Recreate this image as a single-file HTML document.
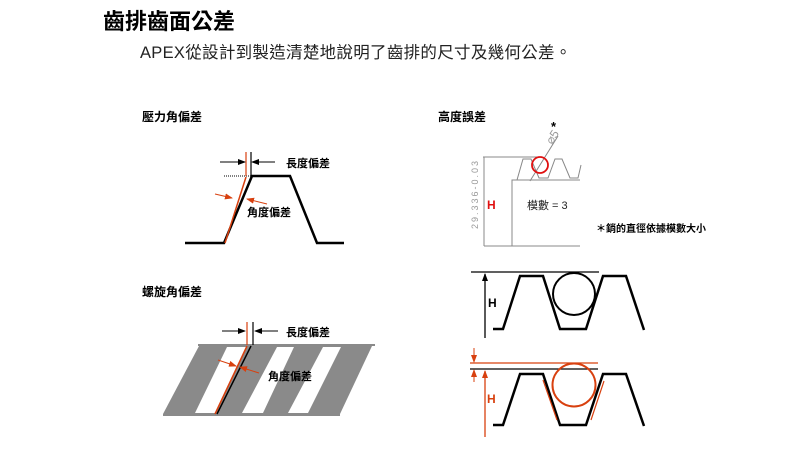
<!DOCTYPE html>
<html><head><meta charset="utf-8"><style>
body{margin:0;background:#fff;width:807px;height:449px;overflow:hidden}
text{font-family:"Liberation Sans","Noto Sans CJK TC",sans-serif}
</style></head><body>
<svg width="807" height="449" viewBox="0 0 807 449" xmlns="http://www.w3.org/2000/svg">
<defs>
<marker id="ab" markerWidth="8" markerHeight="6" refX="7" refY="3" orient="auto" markerUnits="userSpaceOnUse"><path d="M0,0L8,3L0,6z" fill="#000"/></marker>
<marker id="ar" markerWidth="8" markerHeight="6" refX="7" refY="3" orient="auto" markerUnits="userSpaceOnUse"><path d="M0,0L8,3L0,6z" fill="#d8400f"/></marker>
</defs>
<text x="103" y="29" font-size="22" font-weight="bold">齒排齒面公差</text>
<text x="140" y="58" font-size="16.5" fill="#222" letter-spacing="0.3">APEX從設計到製造清楚地說明了齒排的尺寸及幾何公差。</text>

<!-- section 1 -->
<text x="142" y="121" font-size="12" font-weight="bold">壓力角偏差</text>
<polyline points="185,243 224,243 252,176 290,176 317,243 344,243" fill="none" stroke="#000" stroke-width="2.5"/>
<line x1="224" y1="176" x2="252" y2="176" stroke="#000" stroke-dasharray="1,1"/>
<line x1="225" y1="243" x2="246" y2="177" stroke="#d8400f" stroke-width="1.5"/>
<line x1="246" y1="152" x2="246" y2="176" stroke="#d8400f" stroke-width="1.2"/>
<line x1="251" y1="152" x2="251" y2="176" stroke="#000" stroke-width="1.2"/>
<line x1="220" y1="162" x2="245" y2="162" stroke="#000" marker-end="url(#ab)"/>
<line x1="275" y1="162" x2="252" y2="162" stroke="#000" marker-end="url(#ab)"/>
<text x="286" y="167" font-size="11" font-weight="bold">長度偏差</text>
<line x1="215" y1="194" x2="232" y2="198" stroke="#d8400f" marker-end="url(#ar)"/>
<line x1="267" y1="204" x2="247" y2="199" stroke="#d8400f" marker-end="url(#ar)"/>
<text x="247" y="216" font-size="11" font-weight="bold">角度偏差</text>

<!-- section 2 -->
<text x="438" y="121" font-size="12" font-weight="bold">高度誤差</text>
<g stroke="#888" fill="none" stroke-width="1">
<line x1="483" y1="157" x2="540" y2="157"/>
<line x1="484" y1="157" x2="484" y2="246"/>
<line x1="484" y1="246" x2="512" y2="246"/>
<polyline points="512,246 512,180 580,180"/>
<line x1="512" y1="246" x2="580" y2="246"/>
<polyline points="517,180 523,159 531,159 539,178 548,178 555,159 562,159 570,178 578,178 581,165"/>
<line x1="530" y1="181" x2="558" y2="136"/>
</g>
<circle cx="540" cy="165" r="8" fill="none" stroke="#e01010" stroke-width="1.8"/>
<text x="0" y="0" font-size="12" fill="#999" transform="translate(552,145) rotate(-57)">⌀5</text>
<text x="551" y="131" font-size="13" font-weight="bold">*</text>
<text x="0" y="0" font-size="9" fill="#999" font-family="Liberation Mono" transform="translate(478,229) rotate(-90)" letter-spacing="2">29.336-0.03</text>
<text x="487" y="209" font-size="12" font-weight="bold" fill="#e01010">H</text>
<text x="527" y="209" font-size="11" fill="#222">模數 = 3</text>
<text x="596" y="232" font-size="10" font-weight="bold">＊銷的直徑依據模數大小</text>

<!-- section 3 -->
<text x="142" y="296" font-size="12" font-weight="bold">螺旋角偏差</text>
<polygon points="199,346 372,346 340,414 163,414" fill="#8a8a8a"/>
<line x1="198" y1="345" x2="375" y2="345" stroke="#8a8a8a" stroke-width="2"/>
<line x1="163" y1="415" x2="340" y2="415" stroke="#8a8a8a" stroke-width="2"/>
<g fill="#fff">
<polygon points="227,347 247,347 215,413 195,413"/>
<polygon points="277,347 294,347 263,413 242,413"/>
<polygon points="323,347 341,347 308,413 288,413"/>
</g>
<line x1="217" y1="414" x2="251" y2="346" stroke="#000" stroke-width="1.5"/>
<line x1="215" y1="414" x2="247" y2="346" stroke="#d8400f" stroke-width="1.5"/>
<line x1="247" y1="322" x2="247" y2="345" stroke="#d8400f" stroke-width="1.2"/>
<line x1="253" y1="322" x2="253" y2="345" stroke="#000" stroke-width="1.2"/>
<line x1="222" y1="331" x2="245" y2="331" stroke="#000" marker-end="url(#ab)"/>
<line x1="278" y1="331" x2="255" y2="331" stroke="#000" marker-end="url(#ab)"/>
<text x="286" y="336" font-size="11" font-weight="bold">長度偏差</text>
<line x1="218" y1="360" x2="236" y2="366" stroke="#d8400f" marker-end="url(#ar)"/>
<line x1="259" y1="373" x2="240" y2="367" stroke="#d8400f" marker-end="url(#ar)"/>
<text x="268" y="380" font-size="11" font-weight="bold">角度偏差</text>

<!-- section 4 -->
<line x1="471" y1="272" x2="599" y2="272" stroke="#000" stroke-width="1.3"/>
<line x1="485" y1="338" x2="485" y2="274" stroke="#000" stroke-width="1.3" marker-end="url(#ab)"/>
<text x="488" y="307" font-size="12" font-weight="bold">H</text>
<polyline points="493,329 503,329 520,276 543,276 560,329 586,329 603,276 626,276 644,330" fill="none" stroke="#000" stroke-width="2.5"/>
<circle cx="574" cy="294" r="21" fill="none" stroke="#000" stroke-width="2"/>

<line x1="470" y1="363" x2="598" y2="363" stroke="#d8400f" stroke-width="1.3"/>
<line x1="470" y1="369" x2="598" y2="369" stroke="#000" stroke-width="1.3"/>
<line x1="474" y1="348" x2="474" y2="362" stroke="#d8400f" marker-end="url(#ar)"/>
<line x1="474" y1="382" x2="474" y2="370" stroke="#d8400f" marker-end="url(#ar)"/>
<line x1="485" y1="437" x2="485" y2="371" stroke="#d8400f" stroke-width="1.3" marker-end="url(#ar)"/>
<text x="487" y="403" font-size="12" font-weight="bold" fill="#d8400f">H</text>
<polyline points="493,425 503,425 520,374 543,374 560,425 586,425 603,374 626,374 644,426" fill="none" stroke="#000" stroke-width="2.5"/>
<circle cx="574" cy="385" r="21.5" fill="none" stroke="#d8400f" stroke-width="2"/>
<line x1="543" y1="380" x2="557" y2="420" stroke="#d8400f" stroke-width="1.2"/>
<line x1="604" y1="381" x2="591" y2="420" stroke="#d8400f" stroke-width="1.2"/>
</svg>
</body></html>
